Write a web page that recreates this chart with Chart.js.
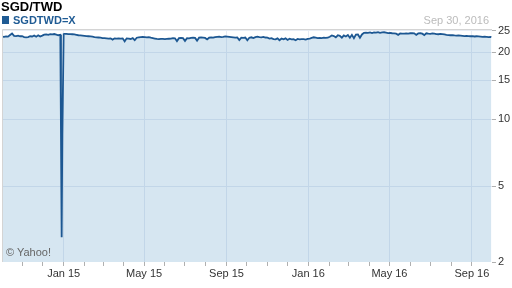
<!DOCTYPE html>
<html><head><meta charset="utf-8">
<script src="https://cdn.jsdelivr.net/npm/chart.js@4.4.0/dist/chart.umd.min.js"></script>
<style>
html,body{margin:0;padding:0;background:#fff;}
#wrap{position:relative;width:512px;height:288px;overflow:hidden;font-family:"Liberation Sans",Arial,sans-serif;}
canvas{position:absolute;left:0;top:0;}
.t{position:absolute;white-space:nowrap;line-height:1;}
</style></head><body>
<div id="wrap">
<canvas id="c" width="512" height="288"></canvas>
<div class="t" style="left:1px;top:0px;font-size:13px;font-weight:bold;color:#000">SGD/TWD</div>
<div class="t" style="left:2px;top:16px;width:7px;height:8px;background:#1f5b94"></div>
<div class="t" style="left:13px;top:15px;font-size:11px;font-weight:bold;color:#1f5b94">SGDTWD=X</div>
<div class="t" style="right:23px;top:15px;font-size:11px;color:#bbbbbb">Sep 30, 2016</div>
<div class="t" style="left:6px;top:247px;font-size:11px;color:#666">© Yahoo!</div>
</div>
<script>
// ---- data ----
const seriesName = 'SGDTWD=X';
const startDate = '2014-10-01';
const endDate = '2016-10-01';
const stepDays = 3;
const rates = [
 23.55,23.50,23.60,23.55,23.95,24.35,23.75,23.70,23.80,23.65,
 23.70,23.45,23.40,23.45,23.65,23.60,23.85,23.55,23.90,23.60,
 23.80,24.05,24.10,24.00,24.15,24.10,24.20,24.05,23.90,24.00,
 8.60,24.25,24.25,24.20,24.20,24.15,24.10,24.00,23.90,23.85,
 23.80,23.75,23.70,23.65,23.60,23.55,23.45,23.40,23.35,23.30,
 23.20,23.20,23.15,23.10,23.15,22.85,23.15,23.10,23.15,23.10,
 23.15,22.45,23.15,23.10,23.00,23.20,22.70,23.30,23.40,23.45,
 23.50,23.45,23.40,23.45,23.30,23.20,23.10,23.00,22.95,23.00,
 23.00,22.95,23.00,23.05,23.10,23.20,23.15,22.50,23.20,23.25,
 23.20,22.55,23.20,23.15,23.25,23.30,23.25,22.60,23.30,23.35,
 23.30,23.25,22.90,23.30,23.35,23.30,23.45,23.50,23.55,23.45,
 23.50,23.60,23.55,23.50,23.45,23.40,23.30,23.35,22.75,23.30,
 23.25,23.35,22.70,23.30,23.40,23.20,23.45,23.55,23.45,23.40,
 23.50,23.35,23.30,23.10,23.20,22.95,22.90,23.15,22.70,23.10,
 22.90,23.15,22.75,23.05,22.90,22.95,22.70,23.00,22.90,22.95,
 22.95,22.85,23.00,23.10,23.25,23.40,23.30,23.20,23.25,23.20,
 23.30,23.25,23.30,23.55,23.85,23.70,23.40,23.90,23.75,23.30,
 23.85,23.60,23.95,23.30,24.00,23.20,24.05,24.10,23.30,24.10,
 24.50,24.55,24.50,24.60,24.45,24.60,24.55,24.70,24.50,24.60,
 24.65,24.55,24.45,24.50,24.40,24.35,24.30,24.00,24.35,24.30,
 24.30,24.35,24.30,24.40,24.45,24.40,24.00,24.35,24.40,24.30,
 23.95,24.40,24.30,24.25,24.35,24.30,24.20,24.15,24.25,24.20,
 24.10,24.00,23.95,23.90,23.95,23.85,23.80,23.85,23.80,23.75,
 23.70,23.75,23.70,23.65,23.70,23.60,23.65,23.60,23.55,23.50,
 23.55,23.50,23.45,23.50
];
const extraDates = ['2014-12-28','2014-12-29','2014-12-31','2015-01-01','2016-09-30'];
const extraRates = [8.5, 2.95, 8.6, 24.2, 23.45];
const xTickDates = ['2015-01-01','2015-05-01','2015-09-01','2016-01-01','2016-05-01','2016-09-01'];
const xTickLabels = ['Jan 15','May 15','Sep 15','Jan 16','May 16','Sep 16'];
const yTickValues = [2,5,10,15,20,25];
const yTickLabels = ['2','5','10','15','20','25'];
const yMin = 2.28, yMax = 25.5;

// ---- build ----
const DAY = 86400000;
const t0 = Date.parse(startDate);
const pts = rates.map((v,i)=>({x: t0 + i*stepDays*DAY, y: v}));
extraDates.forEach((d,i)=>pts.push({x: Date.parse(d), y: extraRates[i]}));
pts.sort((a,b)=>a.x-b.x);
const majorMs = xTickDates.map(d=>Date.parse(d));
const monthTicks = [];
for (let y=2014, m=10; y<2016 || (y===2016 && m<=8); ) {
  monthTicks.push(Date.UTC(y,m,1));
  m++; if (m>11){m=0;y++;}
}
const gridCol = '#e7ecf4';
const font = {family:'"Liberation Sans", Arial, sans-serif', size:11};

const borderPlugin = {
  id:'border',
  afterDraw(chart){
    const {ctx, chartArea:a} = chart;
    ctx.save();
    ctx.strokeStyle = '#d4d4d4'; ctx.lineWidth = 1;
    ctx.beginPath();
    ctx.moveTo(a.left+0.5, a.bottom); ctx.lineTo(a.left+0.5, a.top+0.5); ctx.lineTo(a.right, a.top+0.5);
    ctx.stroke();
    ctx.restore();
  }
};

new Chart(document.getElementById('c'), {
  type:'line',
  data:{datasets:[{
    label: seriesName, data: pts,
    borderColor:'#1c5792', borderWidth:1.8, pointRadius:0, tension:0,
    fill:'start', backgroundColor:'rgba(50,130,185,0.2)'
  }]},
  options:{
    responsive:false, animation:false, devicePixelRatio:1,
    layout:{padding:{top:29,left:2,right:0,bottom:0}},
    plugins:{legend:{display:false}, tooltip:{enabled:false}},
    scales:{
      x:{
        type:'linear', min:t0, max:Date.parse(endDate),
        border:{display:false},
        afterBuildTicks(s){ s.ticks = monthTicks.map(v=>({value:v})); },
        afterFit(s){ s.height = 26; },
        grid:{
          color:(c)=> (c.tick && majorMs.includes(c.tick.value)) ? gridCol : 'rgba(0,0,0,0)',
          tickColor:'#b0b0b0', tickLength:4, lineWidth:1
        },
        ticks:{
          autoSkip:false, maxRotation:0, padding:1, color:'#333', font,
          callback:(v)=>{ const k = majorMs.indexOf(v); return k>=0 ? xTickLabels[k] : ''; }
        }
      },
      y:{
        type:'logarithmic', position:'right', min:yMin, max:yMax,
        border:{display:false},
        afterBuildTicks(s){ s.ticks = yTickValues.map(v=>({value: Math.max(v, yMin)})); },
        afterFit(s){ s.width = 20; },
        grid:{
          color:(c)=> (c.tick && c.tick.value > yMin) ? gridCol : 'rgba(0,0,0,0)',
          tickColor:'#b0b0b0', tickLength:4
        },
        ticks:{
          padding:2, color:'#333', font,
          callback:(v,i)=> yTickLabels[i]
        }
      }
    }
  },
  plugins:[borderPlugin]
});
</script>
</body></html>
